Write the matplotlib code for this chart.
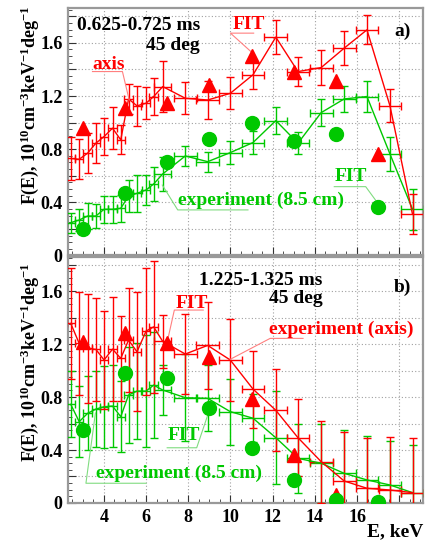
import matplotlib
matplotlib.use("Agg")
import matplotlib.pyplot as plt
from matplotlib.ticker import MultipleLocator, FuncFormatter

plt.rcParams["font.family"] = "Liberation Serif"
plt.rcParams["font.weight"] = "bold"
plt.rcParams["mathtext.fontset"] = "custom"
plt.rcParams["mathtext.rm"] = "Liberation Serif:bold"
plt.rcParams["mathtext.it"] = "Liberation Serif:bold"
plt.rcParams["mathtext.bf"] = "Liberation Serif:bold"

# energy bins of the measured spectra
energy = [2.43, 2.83, 3.23, 3.62, 4.01, 4.41, 4.8, 5.17, 5.57, 6.0, 6.36, 6.79,
          7.86, 8.92, 9.99, 11.07, 12.15, 13.2, 14.3, 15.39, 16.47, 17.56, 18.63]
energy_err = [0.2] * 11 + [0.4] + [0.54] * 11

# panel a) 0.625-0.725 ms
axis_a = [0.73, 0.724, 0.77, 0.845, 0.895, 0.958, 0.87, 1.178, 1.126, 1.146, 1.196, 1.271,
          1.183, 1.17, 1.22, 1.36, 1.643, 1.384, 1.414, 1.56, 1.698, 1.126, 0.31]
axis_a_err = [0.16, 0.15, 0.15, 0.15, 0.14, 0.16, 0.11, 0.11, 0.15, 0.12, 0.14, 0.19,
              0.12, 0.14, 0.12, 0.11, 0.13, 0.11, 0.13, 0.13, 0.11, 0.125, 0.15]
cm85_a = [0.247, 0.267, 0.297, 0.297, 0.348, 0.348, 0.355, 0.448, 0.468, 0.493, 0.538, 0.614,
          0.749, 0.706, 0.774, 0.85, 1.015, 0.845, 1.075, 1.178, 1.196, 0.764, 0.348]
cm85_a_err = [0.075, 0.08, 0.095, 0.09, 0.1, 0.1, 0.1, 0.12, 0.14, 0.11, 0.13, 0.125,
              0.075, 0.075, 0.085, 0.09, 0.1, 0.085, 0.1, 0.1, 0.115, 0.125, 0.155]

fit_energy = [3, 5, 7, 9, 11, 13, 15, 17]
fit_axis_a = [0.96, 1.11, 1.15, 1.28, 1.50, 1.38, 1.31, 0.76]
fit_cm85_a = [0.20, 0.473, 0.70, 0.875, 1.0, 0.862, 0.912, 0.367]

# panel b) 1.225-1.325 ms
axis_b = [1.356, 1.205, 1.167, 1.16, 1.08, 1.162, 1.092, 1.23, 1.142, 1.298, 1.33, 1.22,
          1.125, 1.19, 1.08, 0.86, 0.70, 0.493, 0.312, 0.166, 0.111, 0.098, 0.078]
axis_b_err = [0.42, 0.39, 0.41, 0.39, 0.37, 0.39, 0.32, 0.39, 0.45, 0.48, 0.5, 0.2,
              0.30, 0.33, 0.31, 0.29, 0.31, 0.29, 0.31, 0.37, 0.38, 0.40, 0.41]
cm85_b = [0.745, 0.614, 0.677, 0.709, 0.727, 0.732, 0.652, 0.815, 0.845, 0.845, 0.89, 0.853,
          0.795, 0.79, 0.69, 0.64, 0.493, 0.337, 0.30, 0.224, 0.174, 0.136, 0.078]
cm85_b_err = [0.25, 0.27, 0.28, 0.29, 0.31, 0.31, 0.27, 0.36, 0.36, 0.42, 0.40, 0.19,
              0.33, 0.25, 0.25, 0.18, 0.35, 0.26, 0.30, 0.33, 0.33, 0.33, 0.36]

fit_axis_b = [1.213, 1.28, 1.205, 1.104, 0.785, 0.362, 0.06]
fit_cm85_b = [0.551, 0.979, 0.941, 0.719, 0.417, 0.174, 0.023, 0.01]

RED = "#ff0000"
GREEN = "#00c800"
RED_LIGHT = "#ff8080"
GREEN_LIGHT = "#80dc80"

fig = plt.figure(figsize=(4.34, 5.42), dpi=100)
ax_a = fig.add_axes([0.1567, 0.5286, 0.8191, 0.4561])
ax_b = fig.add_axes([0.1567, 0.0720, 0.8191, 0.4544])


def style_axes(ax, show_x_labels):
    ax.set_xlim(2.3, 19.15)
    ax.set_ylim(0, 1.86)
    ax.xaxis.set_major_locator(MultipleLocator(2))
    ax.xaxis.set_minor_locator(MultipleLocator(0.5))
    ax.yaxis.set_major_locator(MultipleLocator(0.2))
    ax.yaxis.set_minor_locator(MultipleLocator(0.05))
    ax.yaxis.set_major_formatter(FuncFormatter(
        lambda v, p: ("%g" % round(v, 1)) if abs(round(v / 0.4) * 0.4 - v) < 1e-6 and v < 1.7 else ""))
    if show_x_labels:
        ax.xaxis.set_major_formatter(FuncFormatter(
            lambda v, p: "%d" % v if 3 < v < 17 else ""))
    else:
        ax.xaxis.set_major_formatter(FuncFormatter(lambda v, p: ""))
    ax.grid(True, which="major", color="#a0a0a0", linestyle=(0, (1, 2)), linewidth=0.8)
    ax.tick_params(which="both", direction="in", top=False, right=False, colors="#333333",
                   labelsize=13, labelcolor="black", pad=4)
    ax.tick_params(which="major", length=6, width=0.8)
    ax.tick_params(which="minor", length=3, width=0.6)
    for s in ax.spines.values():
        s.set_color("#999999")
        s.set_linewidth(1.6)
    for lab in ax.get_xticklabels() + ax.get_yticklabels():
        lab.set_fontweight("bold")


def draw_panel(ax, axis_vals, axis_err, cm_vals, cm_err, fit_axis, fit_cm):
    ax.errorbar(energy, cm_vals, xerr=energy_err, yerr=cm_err, color=GREEN, lw=1.0,
                elinewidth=1.0, capsize=2.8, capthick=1.0, zorder=3)
    ax.errorbar(energy, axis_vals, xerr=energy_err, yerr=axis_err, color=RED, lw=1.0,
                elinewidth=1.0, capsize=2.8, capthick=1.0, zorder=3)
    ax.plot(fit_energy[:len(fit_axis)], fit_axis, "^", color=RED, ms=10, mec=RED, zorder=5,
            clip_on=True)
    ax.plot(fit_energy[:len(fit_cm)], fit_cm, "o", color=GREEN, ms=10, mec=GREEN, zorder=5)


def label(ax, text, x, y, color, line, line_color):
    ax.text(x, y, text, color=color, fontsize=14, fontweight="bold", ha="left", va="center",
            zorder=6)
    ax.plot([p[0] for p in line], [p[1] for p in line], color=line_color, lw=0.8, zorder=4)


style_axes(ax_a, False)
style_axes(ax_b, True)

draw_panel(ax_a, axis_a, axis_a_err, cm85_a, cm85_a_err, fit_axis_a, fit_cm85_a)
draw_panel(ax_b, axis_b, axis_b_err, cm85_b, cm85_b_err, fit_axis_b, fit_cm85_b)

# panel a texts
ax_a.text(2.73, 1.73, "0.625-0.725 ms", fontsize=14, fontweight="bold", va="center")
ax_a.text(6.0, 1.578, "45 deg", fontsize=14, fontweight="bold", va="center")
ax_a.text(17.76, 1.69, "a)", fontsize=14, fontweight="bold", va="center")
label(ax_a, "FIT", 10.1, 1.736, RED, [(11.0, 1.53), (10.0, 1.673), (11.1, 1.673)], RED_LIGHT)
label(ax_a, "axis", 3.46, 1.434, RED, [(5.2, 1.17), (4.88, 1.384), (3.46, 1.384)], RED_LIGHT)
label(ax_a, "experiment (8.5 cm)", 7.5, 0.418, GREEN,
      [(6.77, 0.53), (7.5, 0.343), (10.83, 0.343)], GREEN_LIGHT)
label(ax_a, "FIT", 14.92, 0.593, GREEN, [(17.0, 0.39), (16.41, 0.518), (14.92, 0.518)], GREEN_LIGHT)

# panel b texts
ax_b.text(8.52, 1.683, "1.225-1.325 ms", fontsize=14, fontweight="bold", va="center")
ax_b.text(11.83, 1.545, "45 deg", fontsize=14, fontweight="bold", va="center")
ax_b.text(17.76, 1.632, "b)", fontsize=14, fontweight="bold", va="center")
label(ax_b, "FIT", 7.42, 1.507, RED, [(7.05, 1.25), (7.34, 1.457), (8.71, 1.457)], RED_LIGHT)
label(ax_b, "experiment (axis)", 11.83, 1.313, RED,
      [(9.99, 1.085), (11.88, 1.243), (13.44, 1.243)], RED_LIGHT)
label(ax_b, "FIT", 7.02, 0.506, GREEN, [(9.0, 0.70), (8.4, 0.417), (7.0, 0.417)], GREEN_LIGHT)
label(ax_b, "experiment (8.5 cm)", 3.65, 0.226, GREEN,
      [(3.6, 0.68), (3.15, 0.149), (6.0, 0.149)], GREEN_LIGHT)

ylab = r"F(E), 10$^{10}$cm$^{-3}$keV$^{-1}$deg$^{-1}$"
fig.text(30 / 434, 1 - 105 / 542, ylab, rotation=90, fontsize=13, fontweight="bold",
         ha="center", va="center")
fig.text(30 / 434, 1 - 362 / 542, ylab, rotation=90, fontsize=13, fontweight="bold",
         ha="center", va="center")
fig.text(423 / 434, 1 - 532 / 542, "E, keV", fontsize=14, fontweight="bold",
         ha="right", va="center")

fig.savefig("out.png", dpi=100)
